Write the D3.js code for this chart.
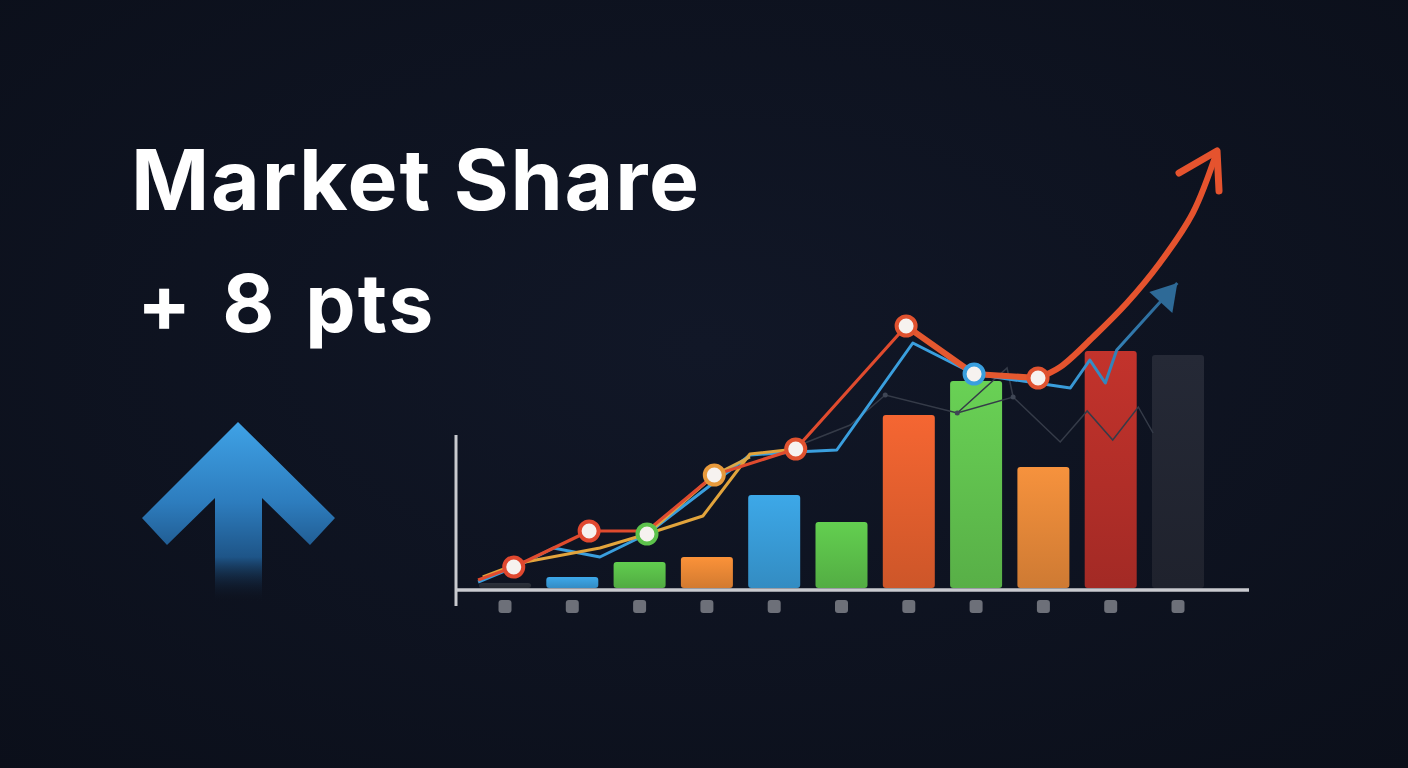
<!DOCTYPE html>
<html>
<head>
<meta charset="utf-8">
<script src="https://cdn.jsdelivr.net/npm/d3@7"></script>
<style>
  html, body { margin: 0; padding: 0; background: #0e1320; }
  svg { display: block; }
</style>
</head>
<body>
<svg id="chart" width="1408" height="768"></svg>
<script>
// bar values, one per slot
var slots = [0, 1, 2, 3, 4, 5, 6, 7, 8, 9, 10];
var barValues = [0.5, 1.1, 2.6, 3.1, 9.3, 6.6, 17.3, 20.7, 12.1, 23.7, 23.3];
var barColors = ['#2a2e38', '#3a9fde', '#5cc24b', '#ee8a36', '#3a9fdc', '#5ec44c',
                 '#e8612f', '#64c651', '#e98a3a', '#b9302a', '#232733'];

// line series, [slot position, value]
var redEarly = [[-0.4, 0.8], [0.13, 2.1], [1.25, 5.7], [2.11, 5.7], [3.11, 11.3], [4.32, 13.9], [5.96, 26.2]];
var redLate = [[5.96, 26.2], [6.97, 21.4], [7.92, 21.0]];
var redTail = [[7.92, 21.0], [8.25, 22.1], [8.74, 25.1], [9.24, 28.5], [9.73, 32.5], [10.22, 37.5], [10.58, 43.7]];
var goldA = [[-0.33, 1.1], [0.22, 2.5], [1.41, 4.0], [2.11, 5.4], [2.94, 7.2], [3.64, 13.4], [4.32, 13.9]];
var goldB = [[2.11, 5.4], [3.11, 11.3], [3.64, 13.1]];
var blueLine = [[-0.4, 0.6], [0.22, 2.3], [0.72, 4.0], [1.41, 3.1], [2.11, 5.4], [3.0, 10.0], [3.64, 13.3],
                [4.32, 13.6], [4.93, 13.8], [6.06, 24.5], [6.97, 21.4], [8.40, 20.0], [8.69, 22.8],
                [8.92, 20.5], [9.09, 23.8], [9.99, 30.5]];
var faintLine = [[4.38, 14.3], [5.13, 16.3], [5.65, 19.3], [6.72, 17.5], [7.55, 19.1], [8.25, 14.6],
                 [8.65, 17.7], [9.03, 14.8], [9.41, 18.1], [9.63, 15.5]];
var faintBranch = [[6.72, 17.5], [7.46, 22.0], [7.55, 19.1]];
var faintDots = [[5.65, 19.3], [6.72, 17.5], [7.55, 19.1]];

var markers = [
  {p: [0.13, 2.1], c: '#e0482f'},
  {p: [1.25, 5.7], c: '#e0482f'},
  {p: [2.11, 5.4], c: '#5cc24b'},
  {p: [3.11, 11.3], c: '#e89a3c'},
  {p: [4.32, 13.9], c: '#e0522f'},
  {p: [5.96, 26.2], c: '#e0522f'},
  {p: [6.97, 21.4], c: '#3a9fde'},
  {p: [7.92, 21.0], c: '#e0522f'}
];

var title = 'Market Share';
var subtitle = '+ 8 pts';

var svg = d3.select('#chart');
var defs = svg.append('defs');

var x = d3.scaleLinear().domain([0, 10]).range([505, 1178]);
var y = d3.scaleLinear().domain([0, 45]).range([588, 138]);
var bw = 52;

// background
var bg = defs.append('radialGradient').attr('id', 'bg').attr('cx', '50%').attr('cy', '45%').attr('r', '75%');
bg.append('stop').attr('offset', '0%').attr('stop-color', '#111727');
bg.append('stop').attr('offset', '100%').attr('stop-color', '#0b0f1a');
svg.append('rect').attr('width', 1408).attr('height', 768).attr('fill', 'url(#bg)');

// texts
svg.append('text').attr('x', 131).attr('y', 210)
  .attr('font-family', 'Inter, "Open Sans", sans-serif').attr('font-weight', 700)
  .attr('font-size', 84).attr('letter-spacing', 1.8).attr('fill', '#ffffff').text(title);
svg.append('text').attr('x', 137).attr('y', 332)
  .attr('font-family', 'Inter, "Open Sans", sans-serif').attr('font-weight', 700)
  .attr('font-size', 80).attr('letter-spacing', 2).attr('word-spacing', 8).attr('fill', '#ffffff').text(subtitle);

// big up arrow
var ag = defs.append('linearGradient').attr('id', 'upArrow').attr('x1', 0).attr('y1', 0).attr('x2', 0).attr('y2', 1);
ag.append('stop').attr('offset', '0%').attr('stop-color', '#3fa2e6');
ag.append('stop').attr('offset', '45%').attr('stop-color', '#2d7cbd');
ag.append('stop').attr('offset', '75%').attr('stop-color', '#1e5588');
ag.append('stop').attr('offset', '100%').attr('stop-color', '#0e1320').attr('stop-opacity', 0);
svg.append('path')
  .attr('d', 'M238,422 L335,518 L310,545 L262,498 L262,602 L215,602 L215,498 L167,545 L142,518 Z')
  .attr('fill', 'url(#upArrow)');

// bars
slots.forEach(function(i) {
  var g = defs.append('linearGradient').attr('id', 'bar' + i).attr('x1', 0).attr('y1', 0).attr('x2', 0).attr('y2', 1);
  var c = d3.color(barColors[i]);
  g.append('stop').attr('offset', '0%').attr('stop-color', c.brighter(0.15));
  g.append('stop').attr('offset', '100%').attr('stop-color', c.darker(0.35));
});
svg.append('g').selectAll('rect').data(slots).enter().append('rect')
  .attr('x', function(i) { return x(i) - bw / 2; })
  .attr('y', function(i) { return y(barValues[i]); })
  .attr('width', bw)
  .attr('height', function(i) { return y(0) - y(barValues[i]); })
  .attr('rx', 3)
  .attr('fill', function(i) { return 'url(#bar' + i + ')'; });

// axes
svg.append('line').attr('x1', 455).attr('x2', 1249).attr('y1', 590).attr('y2', 590)
  .attr('stroke', '#c9cacf').attr('stroke-width', 3.5);
svg.append('line').attr('x1', 456).attr('x2', 456).attr('y1', 435).attr('y2', 606)
  .attr('stroke', '#c9cacf').attr('stroke-width', 3);
svg.append('g').selectAll('rect').data(slots).enter().append('rect')
  .attr('x', function(i) { return x(i) - 6.5; })
  .attr('y', 600).attr('width', 13).attr('height', 13).attr('rx', 3)
  .attr('fill', '#6d7079');

var line = d3.line().x(function(d) { return x(d[0]); }).y(function(d) { return y(d[1]); });
var curve = d3.line().x(function(d) { return x(d[0]); }).y(function(d) { return y(d[1]); }).curve(d3.curveCatmullRom);

// faint background line
svg.append('path').attr('d', line(faintLine)).attr('fill', 'none').attr('stroke', '#353b48').attr('stroke-width', 1.5);
svg.append('path').attr('d', line(faintBranch)).attr('fill', 'none').attr('stroke', '#353b48').attr('stroke-width', 1.5);
svg.append('g').selectAll('circle').data(faintDots).enter().append('circle')
  .attr('cx', function(d) { return x(d[0]); }).attr('cy', function(d) { return y(d[1]); })
  .attr('r', 2.5).attr('fill', '#3f4655');

// blue line with fading end
var blueTip = blueLine[blueLine.length - 1];
var bgGrad = defs.append('linearGradient').attr('id', 'blueGrad').attr('gradientUnits', 'userSpaceOnUse')
  .attr('x1', x(8.2)).attr('x2', x(blueTip[0])).attr('y1', 0).attr('y2', 0);
bgGrad.append('stop').attr('offset', '0%').attr('stop-color', '#3a9fde');
bgGrad.append('stop').attr('offset', '100%').attr('stop-color', '#2b628e');
svg.append('path').attr('d', line(blueLine)).attr('fill', 'none')
  .attr('stroke', 'url(#blueGrad)').attr('stroke-width', 3).attr('stroke-linejoin', 'round');
var bx = x(blueTip[0]), by = y(blueTip[1]);
svg.append('path')
  .attr('d', 'M' + bx + ',' + by + ' L' + (bx - 28) + ',' + (by + 9) + ' L' + (bx - 5) + ',' + (by + 30) + ' Z')
  .attr('fill', '#2e6a97');

// gold lines
svg.append('path').attr('d', line(goldA)).attr('fill', 'none')
  .attr('stroke', '#e2a43c').attr('stroke-width', 3).attr('stroke-linejoin', 'round');
svg.append('path').attr('d', line(goldB)).attr('fill', 'none')
  .attr('stroke', '#dba848').attr('stroke-width', 3).attr('stroke-linejoin', 'round');

// red line
svg.append('path').attr('d', line(redEarly)).attr('fill', 'none')
  .attr('stroke', '#e04b2e').attr('stroke-width', 3.2).attr('stroke-linejoin', 'round');
svg.append('path').attr('d', line(redLate)).attr('fill', 'none')
  .attr('stroke', '#e4582f').attr('stroke-width', 6).attr('stroke-linejoin', 'round');
svg.append('path').attr('d', curve(redTail)).attr('fill', 'none')
  .attr('stroke', '#e5532e').attr('stroke-width', 6).attr('stroke-linecap', 'round');
var rt = redTail[redTail.length - 1];
var rx = x(rt[0]), ry = y(rt[1]);
svg.append('path')
  .attr('d', 'M' + (rx - 38) + ',' + (ry + 22) + ' L' + rx + ',' + ry + ' L' + (rx + 2) + ',' + (ry + 40))
  .attr('fill', 'none').attr('stroke', '#e5532e').attr('stroke-width', 7)
  .attr('stroke-linecap', 'round').attr('stroke-linejoin', 'round');

// markers
svg.append('g').selectAll('circle').data(markers).enter().append('circle')
  .attr('cx', function(d) { return x(d.p[0]); })
  .attr('cy', function(d) { return y(d.p[1]); })
  .attr('r', 9.5)
  .attr('fill', '#f6f2ef')
  .attr('stroke', function(d) { return d.c; })
  .attr('stroke-width', 4);
</script>
</body>
</html>
